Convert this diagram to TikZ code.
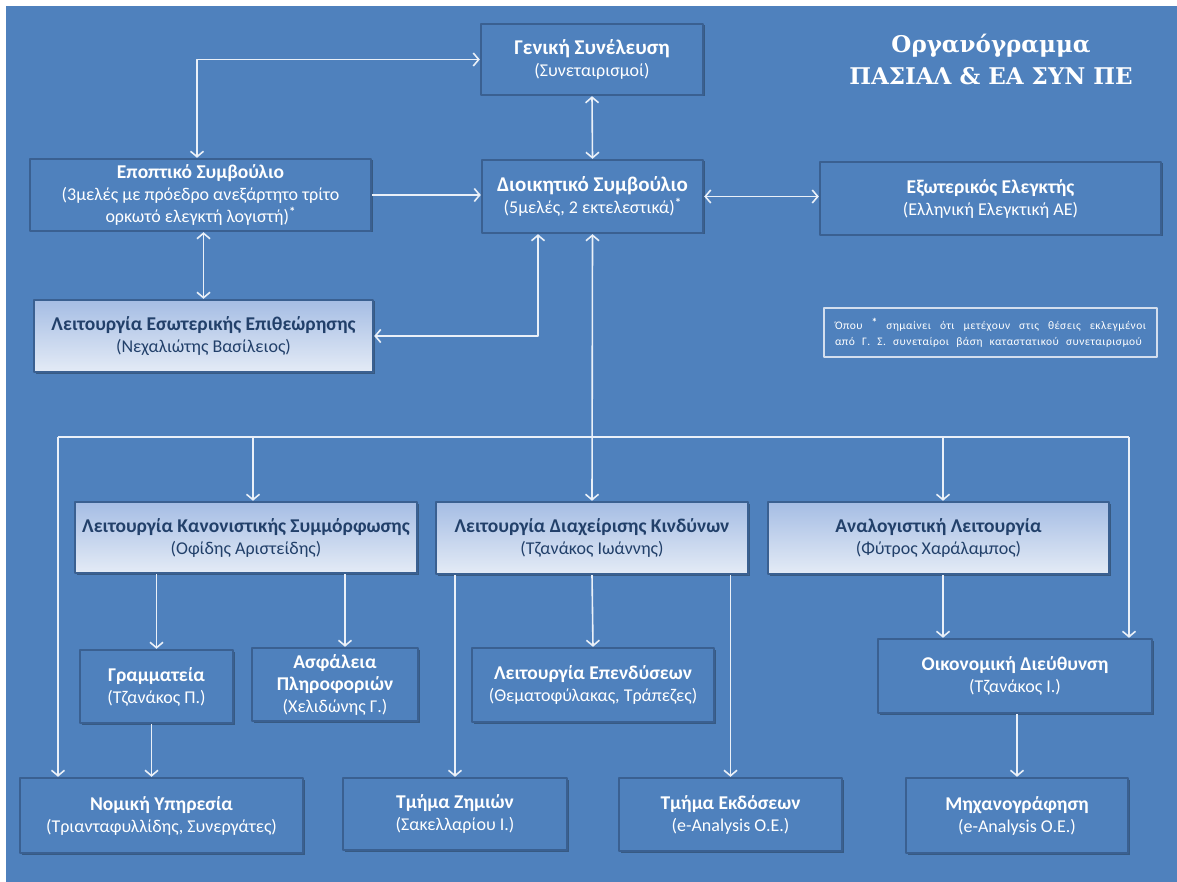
\documentclass[tikz,border=0pt]{standalone}
\usepackage{fontspec}
\setmainfont{Carlito}
\newfontfamily\titlefont{DejaVu Serif}
\newfontfamily\notefont[LetterSpace=4]{Carlito}
\usetikzlibrary{arrows.meta,shadows}
\definecolor{bgblue}{HTML}{4F81BD}
\definecolor{edgeblue}{HTML}{3A6091}
\definecolor{gradtop}{HTML}{A5BDE4}
\definecolor{gradbot}{HTML}{E4EBF6}
\definecolor{navy}{HTML}{22406A}
\definecolor{linewhite}{HTML}{EAF0F8}
\definecolor{noteedge}{HTML}{D3DEEE}
\newcommand{\boxhead}[1]{{\fontsize{19.5}{22}\selectfont\bfseries #1}}
\newcommand{\bighead}[1]{{\fontsize{21}{24}\selectfont\bfseries #1}}
\newcommand{\starmark}{\raisebox{.35em}{\fontsize{13}{13}\selectfont\bfseries *}}
\tikzset{
	unit/.style={draw=edgeblue,line width=2.4pt,fill=bgblue,text=white,align=center,inner sep=0pt,
		font=\fontsize{18}{22}\selectfont,
		drop shadow={shadow xshift=1.5pt,shadow yshift=-1.5pt,opacity=.3,fill=black}},
	func/.style={unit,top color=gradtop,bottom color=gradbot,text=navy},
	link/.style={draw=linewhite,line width=1.6pt,->},
	dlink/.style={link,<->}
}
\begin{document}
\begin{tikzpicture}[x=1pt,y=-1pt,line join=round,>={Straight Barb[length=5.5pt,width=13pt]}]
	\useasboundingbox (0,0) rectangle (1177,882);
	\fill[white] (0,0) rectangle (1177,882);
	\fill[bgblue] (6,6) rectangle (1177,882);
	\node[text=white,align=center,font=\titlefont\bfseries\fontsize{23}{32}\selectfont] (title) at (991,59) {Οργανόγραμμα\\ΠΑΣΙΑΛ \& ΕΑ ΣΥΝ ΠΕ};
	\node[unit,minimum width=222,minimum height=71] (gen) at (592,59.5) {\bighead{Γενική Συνέλευση}\\(Συνεταιρισμοί)};
	\node[unit,minimum width=221,minimum height=73] (dio) at (592.5,196.5) {\bighead{Διοικητικό Συμβούλιο}\\(5μελές, 2 εκτελεστικά)\starmark};
	\node[unit,minimum width=341,minimum height=72] (epo) at (200.5,195) {\boxhead{Εποπτικό Συμβούλιο}\\(3μελές με πρόεδρο ανεξάρτητο τρίτο\\ορκωτό ελεγκτή λογιστή)\starmark};
	\node[unit,minimum width=341,minimum height=73] (ext) at (990.5,198.5) {\boxhead{Εξωτερικός Ελεγκτής}\\(Ελληνική Ελεγκτική ΑΕ)};
	\node[func,minimum width=339,minimum height=72] (esw) at (203.5,336) {\boxhead{Λειτουργία Εσωτερικής Επιθεώρησης}\\(Νεχαλιώτης Βασίλειος)};
	\node[draw=noteedge,line width=1.2pt,text=white,minimum width=333,minimum height=49,inner sep=0pt,align=left,
		font=\notefont\fontsize{11.5}{16}\selectfont] (note) at (990.5,332.5)
		{\makebox[311pt][s]{Όπου \raisebox{.25em}{\bfseries *} σημαίνει ότι μετέχουν στις θέσεις εκλεγμένοι}\\
		\makebox[307pt][s]{από Γ. Σ. συνεταίροι βάση καταστατικού συνεταιρισμού}\hspace{4pt}};
	\node[func,minimum width=342,minimum height=71] (kan) at (246,537.5) {\boxhead{Λειτουργία Κανονιστικής Συμμόρφωσης}\\(Οφίδης Αριστείδης)};
	\node[func,minimum width=312,minimum height=72] (dia) at (592,538) {\boxhead{Λειτουργία Διαχείρισης Κινδύνων}\\(Τζανάκος Ιωάννης)};
	\node[func,minimum width=341,minimum height=72] (ana) at (938.5,538) {\boxhead{Αναλογιστική Λειτουργία}\\(Φύτρος Χαράλαμπος)};
	\node[unit,minimum width=153,minimum height=73] (gram) at (156.5,686.5) {\boxhead{Γραμματεία}\\(Τζανάκος Π.)};
	\node[unit,minimum width=166,minimum height=73] (asf) at (335,684.5) {\boxhead{Ασφάλεια}\\\boxhead{Πληροφοριών}\\(Χελιδώνης Γ.)};
	\node[unit,minimum width=242,minimum height=74] (epe) at (593,685) {\boxhead{Λειτουργία Επενδύσεων}\\(Θεματοφύλακας, Τράπεζες)};
	\node[unit,minimum width=274,minimum height=74] (oik) at (1015,676) {\boxhead{Οικονομική Διεύθυνση}\\(Τζανάκος Ι.)};
	\node[unit,minimum width=283,minimum height=75] (nom) at (161.5,815.5) {\boxhead{Νομική Υπηρεσία}\\(Τριανταφυλλίδης, Συνεργάτες)};
	\node[unit,minimum width=224,minimum height=72] (zim) at (455,814) {\boxhead{Τμήμα Ζημιών}\\(Σακελλαρίου Ι.)};
	\node[unit,minimum width=223,minimum height=73] (ekd) at (730.5,814.5) {\boxhead{Τμήμα Εκδόσεων}\\(e-Analysis Ο.Ε.)};
	\node[unit,minimum width=222,minimum height=75] (mix) at (1017,815.5) {\boxhead{Μηχανογράφηση}\\(e-Analysis Ο.Ε.)};
	\draw[dlink] ([xshift=-3.5pt]epo.north) |- (gen.west);
	\draw[link] (epo.east) -- (epo.east -| dio.west);
	\draw[dlink] (gen.south) -- (dio.north);
	\draw[dlink] (dio.east) -- (dio.east -| ext.west);
	\draw[dlink] (esw.north) -- (esw.north |- epo.south);
	\draw[dlink] ([xshift=-54.5pt]dio.south) |- (esw.east);
	\draw[dlink] (dio.south) -- (dia.north);
	\coordinate (busL) at (58,437);
	\coordinate (busR) at (1129,437);
	\draw[link,-] (busL) -- (busR);
	\draw[link] (busL) -- (busL |- nom.north);
	\draw[link] ([xshift=7pt]kan.north |- busL) -- ([xshift=7pt]kan.north);
	\draw[link] ([xshift=4.5pt]ana.north |- busL) -- ([xshift=4.5pt]ana.north);
	\draw[link] (busR) -- (busR |- oik.north);
	\draw[link] (kan.south -| gram.north) -- (gram.north);
	\draw[link] ([xshift=10pt]asf.north |- kan.south) -- ([xshift=10pt]asf.north);
	\draw[link] ([xshift=-5pt]gram.south) -- ([xshift=-5pt]gram.south |- nom.north);
	\draw[link] (dia.south) -- (epe.north);
	\draw[link] (dia.south -| zim.north) -- (zim.north);
	\draw[link] (dia.south -| ekd.north) -- (ekd.north);
	\draw[link] ([xshift=4.5pt]ana.south) -- ([xshift=4.5pt]ana.south |- oik.north);
	\draw[link] (oik.south -| mix.north) -- (mix.north);
\end{tikzpicture}
\end{document}
